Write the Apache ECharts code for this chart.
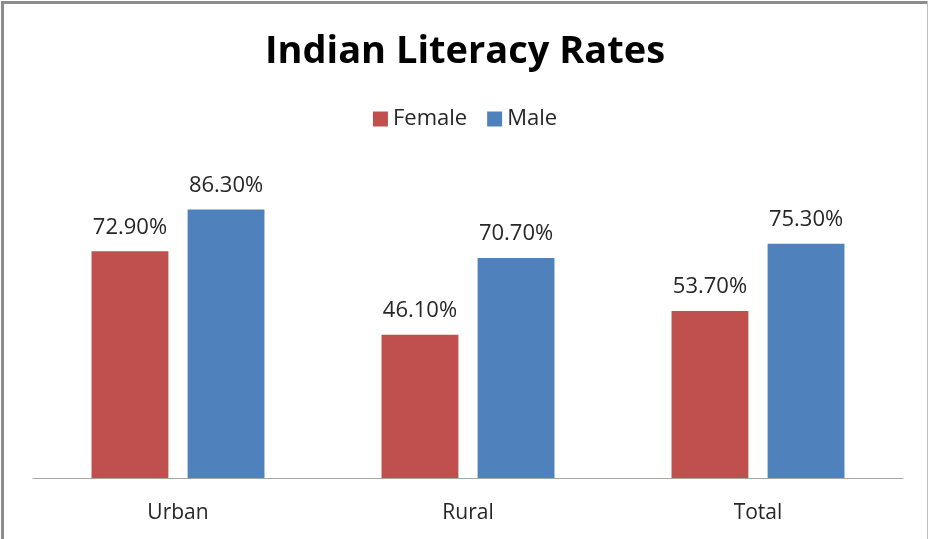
<!DOCTYPE html>
<html>
<head>
<meta charset="utf-8">
<script src="https://cdn.jsdelivr.net/npm/echarts@6/dist/echarts.min.js"></script>
<style>
  html, body { margin: 0; padding: 0; background: #fff; }
  #chart { width: 930px; height: 539px; }
</style>
</head>
<body>
<div id="chart"></div>
<script>
const categories = ['Urban', 'Rural', 'Total'];
const femaleValues = [72.9, 46.1, 53.7];
const maleValues = [86.3, 70.7, 75.3];

const FONT = 'Open Sans';
const femaleColor = '#C0504D';
const maleColor = '#4F81BD';

const chart = echarts.init(document.getElementById('chart'));

const barSeries = (name, data, color) => ({
  name,
  type: 'bar',
  data,
  barWidth: '26.5%',
  barGap: '25%',
  itemStyle: { color },
  label: {
    show: true,
    position: 'top',
    distance: 13,
    formatter: (p) => `${p.value.toFixed(2)}%`,
    color: '#262626',
    fontFamily: FONT,
    fontSize: 22,
  },
  animation: false,
});

chart.setOption({
  animation: false,
  title: {
    text: 'Indian Literacy Rates',
    left: 'center',
    top: 28,
    textStyle: { fontFamily: FONT, fontWeight: 'bold', fontSize: 38, color: '#000' },
  },
  legend: {
    top: 103,
    left: 'center',
    itemWidth: 15,
    itemHeight: 15,
    itemGap: 20,
    icon: 'rect',
    textStyle: { fontFamily: FONT, fontSize: 22, color: '#262626' },
  },
  grid: { left: 33, right: 27, top: 167, bottom: 61 },
  xAxis: {
    type: 'category',
    data: categories,
    axisLine: { lineStyle: { color: '#A6A6A6', width: 1 } },
    axisTick: { show: false },
    axisLabel: { fontFamily: FONT, fontSize: 21, color: '#262626', margin: 25 },
  },
  yAxis: {
    type: 'value',
    min: 0,
    max: 100,
    show: false,
  },
  graphic: [
    { type: 'rect', shape: { x: 1, y: 1, width: 3, height: 538 }, style: { fill: '#8C8C8C' } },
    { type: 'rect', shape: { x: 1, y: 1, width: 927, height: 3 }, style: { fill: '#8C8C8C' } },
    { type: 'rect', shape: { x: 927, y: 1, width: 1, height: 538 }, style: { fill: '#BFBFBF' } },
  ],
  series: [
    barSeries('Female', femaleValues, femaleColor),
    barSeries('Male', maleValues, maleColor),
  ],
});
</script>
</body>
</html>
